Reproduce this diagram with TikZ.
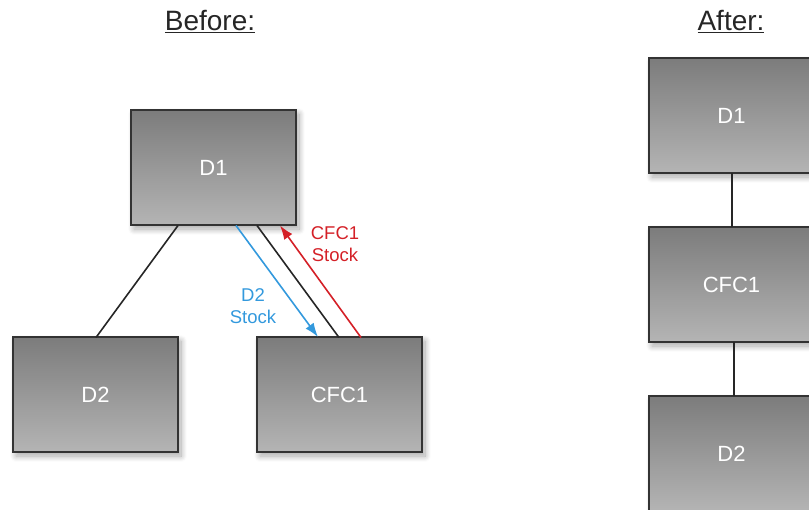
\documentclass[tikz,border=0pt]{standalone}
\usepackage{fontspec}
\setmainfont{Liberation Sans}
\usetikzlibrary{shadows.blur,arrows.meta}
\definecolor{boxtop}{HTML}{7C7C7C}
\definecolor{boxbot}{HTML}{B4B4B4}
\definecolor{boxline}{HTML}{333333}
\definecolor{stockred}{HTML}{D42027}
\definecolor{stockblue}{HTML}{3399DD}
\tikzset{
  unitbox/.style={draw=boxline, line width=1.3pt, top color=boxtop, bottom color=boxbot,
    minimum width=165pt, minimum height=115pt, inner sep=0pt,
    text=white, font=\fontsize{22}{24}\selectfont,
    blur shadow={shadow xshift=3pt, shadow yshift=-4pt, shadow blur steps=12, shadow blur radius=6pt, shadow opacity=35}},
  link/.style={line width=1.6pt, draw=black!85},
  flow/.style={line width=1.6pt, -{Latex[length=14pt,width=10pt]}},
  caption/.style={font=\fontsize{28}{30}\selectfont, text=black!85},
  flowlabel/.style={font=\fontsize{18.5}{22}\selectfont, align=center}
}
\begin{document}
\begin{tikzpicture}[x=1pt,y=-1pt]
\useasboundingbox (0,0) rectangle (809,509);
\clip (0,0) rectangle (809,509);

% titles
\node[caption] (before) at (210,22) {\underline{Before:}};
\node[caption] (after) at (731,22) {\underline{After:}};

% before
\node[unitbox] (d1) at (213.5,167.5) {D1};
\node[unitbox] (d2) at (95.5,394.5) {D2};
\node[unitbox] (cfc) at (339.5,394.5) {CFC1};

\coordinate (d1a) at (178,225.5);
\coordinate (d2a) at (96,337.5);
\draw[link] (d1a) -- (d2a);
\coordinate (d1b) at (257,225.5);
\coordinate (cfcb) at (339,337.5);
\draw[link] (d1b) -- (cfcb);
\coordinate (d1c) at (236,225.5);
\coordinate (cfcc) at (318,337);
\draw[flow, stockblue] (d1c) -- (cfcc);
\coordinate (cfcd) at (361,337.5);
\coordinate (d1d) at (280,225.5);
\draw[flow, stockred] (cfcd) -- (d1d);

\node[flowlabel, text=stockred] (redlab) at (335,244) {CFC1\\Stock};
\node[flowlabel, text=stockblue] (bluelab) at (253,306) {D2\\Stock};

% after
\node[unitbox] (ad1) at (731.5,115.5) {D1};
\node[unitbox] (acfc) at (731.5,284.5) {CFC1};
\node[unitbox] (ad2) at (731.5,453.5) {D2};
\coordinate (ad1b) at (732,173);
\coordinate (acfct) at (732,227);
\draw[link] (ad1b) -- (acfct);
\coordinate (acfcb) at (734,342);
\coordinate (ad2t) at (734,396);
\draw[link] (acfcb) -- (ad2t);
\end{tikzpicture}
\end{document}
